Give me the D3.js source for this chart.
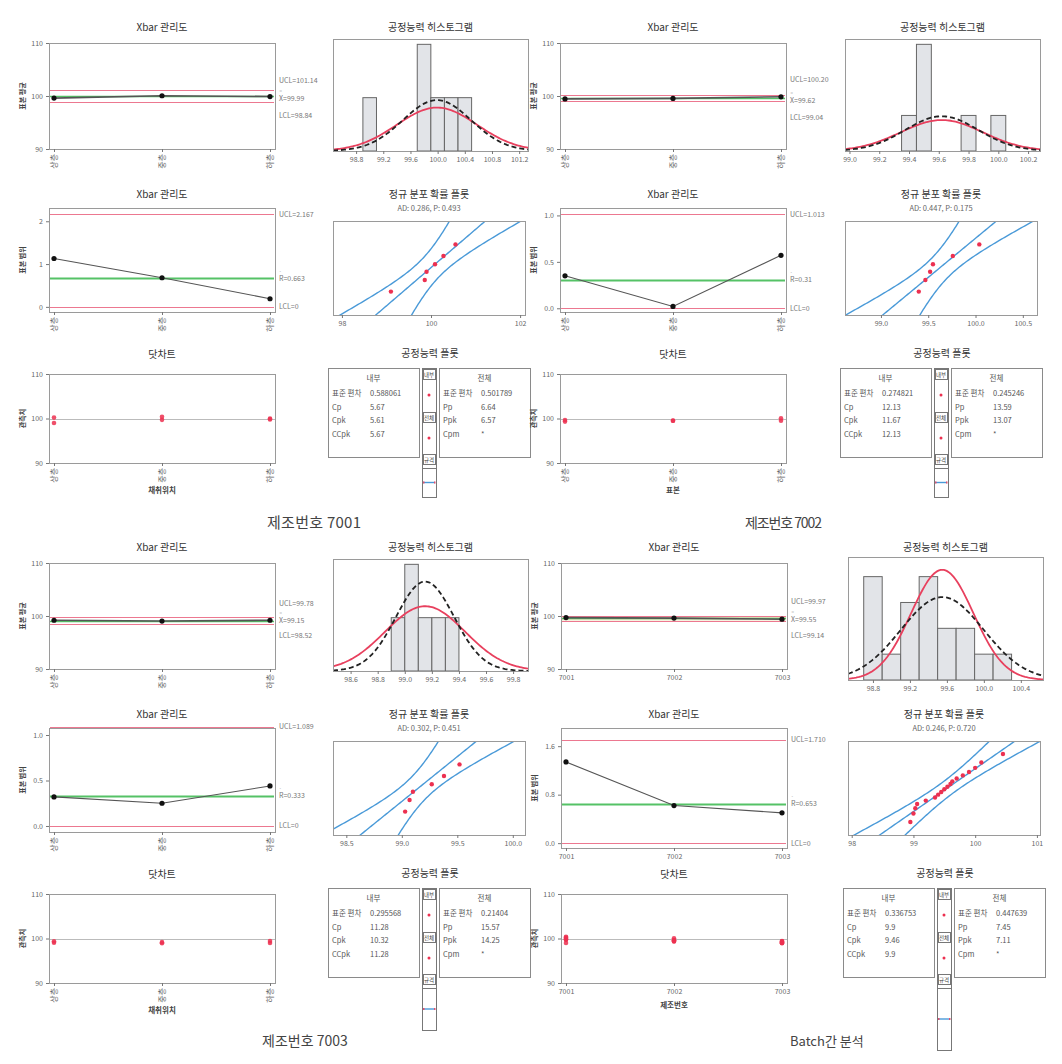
<!DOCTYPE html>
<html><head><meta charset="utf-8">
<script src="https://cdn.jsdelivr.net/npm/d3@7"></script>
<style>
body{margin:0;background:#fff}
text{font-family:'Noto Sans CJK KR','Noto Sans',sans-serif;fill:#555}
</style>
</head><body>
<svg id="c" width="1062" height="1064"></svg>
<script>
// ===================== DATA =====================
const positions = ["상층", "중층", "하층"];
const batches = ["7001", "7002", "7003"];

// Xbar charts: subgroup means and [UCL, center, LCL]
const xbar7001 = [99.6, 100.05, 99.9];
const xbarLim7001 = ["101.14", "99.99", "98.84"];
const xbar7002 = [99.45, 99.55, 99.85];
const xbarLim7002 = ["100.20", "99.62", "99.04"];
const xbar7003 = [99.2, 99.05, 99.2];
const xbarLim7003 = ["99.78", "99.15", "98.52"];
const xbarBatch = [99.7, 99.6, 99.4];
const xbarLimBatch = ["99.97", "99.55", "99.14"];

// R charts (titled "Xbar 관리도" in the source)
const range7001 = [1.13, 0.68, 0.19];
const rangeLim7001 = ["2.167", "0.663", "0"];
const range7002 = [0.35, 0.02, 0.57];
const rangeLim7002 = ["1.013", "0.31", "0"];
const range7003 = [0.32, 0.25, 0.44];
const rangeLim7003 = ["1.089", "0.333", "0"];
const rangeBatch = [1.34, 0.62, 0.5];
const rangeLimBatch = ["1.710", "0.653", "0"];

// Capability histograms: bin left edges, counts, bin width, fitted-curve scale
const histEdges7001 = [98.9, 99.7, 99.9, 100.1, 100.3];
const histCounts7001 = [1, 2, 1, 1, 1];
const histWidth7001 = 0.2;
const histEdges7002 = [99.35, 99.45, 99.75, 99.95];
const histCounts7002 = [1, 3, 1, 1];
const histWidth7002 = 0.1;
const histEdges7003 = [98.9, 99.0, 99.1, 99.2, 99.3];
const histCounts7003 = [1, 2, 1, 1, 1];
const histWidth7003 = 0.1;
const histEdgesBatch = [98.7, 98.9, 99.1, 99.3, 99.5, 99.7, 99.9, 100.1];
const histCountsBatch = [4, 1, 3, 4, 2, 2, 1, 1];
const histWidthBatch = 0.2;
const histCurveScale = [1, 1, 1.5, 1];

// mean, within SD, overall SD, n
const stats7001 = [99.99, 0.588061, 0.501789, 6];
const stats7002 = [99.62, 0.274821, 0.245246, 6];
const stats7003 = [99.15, 0.295568, 0.21404, 6];
const statsBatch = [99.55, 0.336753, 0.447639, 18];

// Normal probability plot points
const prob7001 = [99.1, 99.86, 99.9, 100.09, 100.28, 100.55];
const prob7002 = [99.40, 99.47, 99.52, 99.55, 99.76, 100.04];
const prob7003 = [99.03, 99.07, 99.10, 99.27, 99.38, 99.52];
const probBatch = [98.95, 99.0, 99.03, 99.06, 99.2, 99.35, 99.4, 99.45, 99.5, 99.55, 99.6, 99.63, 99.7, 99.8, 99.9, 100.0, 100.1, 100.45];
const adText = ["AD: 0.286, P: 0.493", "AD: 0.447, P: 0.175", "AD: 0.302, P: 0.451", "AD: 0.246, P: 0.720"];

// Dot charts: observations by position
const dots7001 = [[99.0, 100.2], [99.7, 100.4], [99.8, 100.0]];
const dots7002 = [[99.3, 99.65], [99.5, 99.52], [99.5, 100.05]];
const dots7003 = [[99.04, 99.36], [98.93, 99.18], [98.98, 99.42]];
const dotsBatch = [[99.0, 100.2, 99.7, 100.4, 99.8, 100.0], [99.3, 99.65, 99.5, 99.52, 99.5, 100.05], [99.04, 99.36, 98.93, 99.18, 98.98, 99.42]];

// Capability statistics tables
const capRowsWithin = ["표준 편차", "Cp", "Cpk", "CCpk"];
const capRowsOverall = ["표준 편차", "Pp", "Ppk", "Cpm"];
const capWithin7001 = ["0.588061", "5.67", "5.61", "5.67"];
const capOverall7001 = ["0.501789", "6.64", "6.57", "*"];
const capWithin7002 = ["0.274821", "12.13", "11.67", "12.13"];
const capOverall7002 = ["0.245246", "13.59", "13.07", "*"];
const capWithin7003 = ["0.295568", "11.28", "10.32", "11.28"];
const capOverall7003 = ["0.21404", "15.57", "14.25", "*"];
const capWithinBatch = ["0.336753", "9.9", "9.46", "9.9"];
const capOverallBatch = ["0.447639", "7.45", "7.11", "*"];

const panelLabels = ["제조번호 7001", "제조번호 7002", "제조번호 7003", "Batch간 분석"];

// ===================== HELPERS =====================
const svg = d3.select("#c");
const RED = "#ec7890", GREEN = "#55c266", BLUE = "#4a9ad8", DOT = "#ec3050";

function qnorm(p) {
  const a = [-3.969683028665376e+01, 2.209460984245205e+02, -2.759285104469687e+02, 1.383577518672690e+02, -3.066479806614716e+01, 2.506628277459239e+00];
  const b = [-5.447609879822406e+01, 1.615858368580409e+02, -1.556989798598866e+02, 6.680131188771972e+01, -1.328068155288572e+01];
  const c = [-7.784894002430293e-03, -3.223964580411365e-01, -2.400758277161838e+00, -2.549732539343734e+00, 4.374664141464968e+00, 2.938163982698783e+00];
  const d = [7.784695709041462e-03, 3.224671290700398e-01, 2.445134137142996e+00, 3.754408661907416e+00];
  const pl = 0.02425; let q, r;
  if (p < pl) { q = Math.sqrt(-2 * Math.log(p)); return (((((c[0]*q+c[1])*q+c[2])*q+c[3])*q+c[4])*q+c[5]) / ((((d[0]*q+d[1])*q+d[2])*q+d[3])*q+1); }
  if (p <= 1 - pl) { q = p - 0.5; r = q*q; return (((((a[0]*r+a[1])*r+a[2])*r+a[3])*r+a[4])*r+a[5])*q / (((((b[0]*r+b[1])*r+b[2])*r+b[3])*r+b[4])*r+1); }
  q = Math.sqrt(-2 * Math.log(1 - p)); return -(((((c[0]*q+c[1])*q+c[2])*q+c[3])*q+c[4])*q+c[5]) / ((((d[0]*q+d[1])*q+d[2])*q+d[3])*q+1);
}
const dnorm = (x, m, s) => Math.exp(-0.5 * ((x - m) / s) ** 2) / (s * Math.sqrt(2 * Math.PI));

function text(g, x, y, s, size, o = {}) {
  const t = g.append("text").attr("x", x).attr("y", y).attr("font-size", size)
    .attr("text-anchor", o.anchor || "middle").text(s);
  if (o.fill) t.style("fill", o.fill);
  if (o.rotate) t.attr("transform", `rotate(${o.rotate},${x},${y})`);
  if (o.weight) t.attr("font-weight", o.weight);
  return t;
}
function frame(g, f) {
  g.append("rect").attr("x", f.x0 + 0.5).attr("y", f.y0 + 0.5).attr("width", f.x1 - f.x0).attr("height", f.y1 - f.y0)
    .attr("fill", "none").attr("stroke", "#9a9a9a").attr("stroke-width", 1);
}
function styleAxis(a) {
  a.select(".domain").remove();
  a.selectAll("line").attr("stroke", "#777");
  a.selectAll("text").attr("font-size", 7).style("fill", "#666").attr("font-family", "'Noto Sans CJK KR','Noto Sans',sans-serif");
}
let clipId = 0;
function clip(g, f) {
  const id = "cl" + (clipId++);
  svg.append("clipPath").attr("id", id).append("rect").attr("x", f.x0).attr("y", f.y0).attr("width", f.x1 - f.x0).attr("height", f.y1 - f.y0);
  return g.append("g").attr("clip-path", `url(#${id})`);
}
function xTicks(xa, rotated) {
  if (rotated) xa.selectAll("text").attr("transform", "rotate(-90)").attr("text-anchor", "end").attr("x", -5).attr("y", 0).attr("dy", "0.35em").attr("font-size", 8);
}

function controlChart(g, c) {
  const x = d3.scalePoint().domain(c.cats).range([c.x0 + 5, c.x1 - 5]);
  const y = d3.scaleLinear().domain(c.yDomain).range([c.y1, c.y0]);
  const lim = c.lim.map(Number);
  if (c.band) g.append("rect").attr("x", c.x0 + 1).attr("width", c.x1 - c.x0 - 2).attr("y", y(lim[0])).attr("height", y(lim[2]) - y(lim[0])).attr("fill", "#efe8c8");
  [[lim[0], RED, 1.2], [lim[2], RED, 1.2], [lim[1], GREEN, c.clw || 1.4]].forEach(([v, col, w]) => {
    const yy = Math.round(y(v)) + 0.5;
    g.append("line").attr("x1", c.x0 + 1).attr("x2", c.x1 - 1).attr("y1", yy).attr("y2", yy).attr("stroke", col).attr("stroke-width", w);
  });
  g.append("path").datum(c.values).attr("fill", "none").attr("stroke", "#555").attr("stroke-width", c.lw || 1.1)
    .attr("d", d3.line().x((d, i) => x(c.cats[i])).y(d => y(d)));
  g.selectAll(null).data(c.values).enter().append("circle").attr("cx", (d, i) => x(c.cats[i])).attr("cy", d => y(d)).attr("r", 2.6).attr("fill", "#111");
  frame(g, c);
  styleAxis(g.append("g").attr("transform", `translate(${c.x0},0)`).call(d3.axisLeft(y).tickValues(c.yTicks).tickFormat(c.fmt).tickSize(3)));
  const xa = g.append("g").attr("transform", `translate(0,${c.y1})`).call(d3.axisBottom(x).tickSize(3));
  styleAxis(xa); xTicks(xa, c.rot);
  const names = ["UCL=", c.cname + "=", "LCL="];
  names.forEach((n, i) => {
    const yy = y(lim[i]) + c.ldy[i];
    text(g, c.x1 + 4, yy + 2.5, n + c.lim[i], 7, { anchor: "start", fill: "#777" });
    if (i === 1) text(g, c.x1 + 4.5, yy - 5.5, c.cname === "X" ? "=" : "-", 4.5, { anchor: "start", fill: "#777" });
  });
  text(g, (c.x0 + c.x1) / 2, c.ty, c.title, 10, { fill: "#333" });
  if (c.ylab) text(g, c.x0 - 24, (c.y0 + c.y1) / 2, c.ylab, 7, { rotate: -90, fill: "#444", weight: "bold" });
}

function histChart(g, c) {
  const x = d3.scaleLinear().domain(c.xDomain).range([c.x0, c.x1]);
  const ymax = d3.max(c.counts) * c.top;
  const y = d3.scaleLinear().domain([0, ymax]).range([c.y1, c.y0]);
  const cg = clip(g, c);
  cg.selectAll(null).data(c.edges).enter().append("rect")
    .attr("x", d => x(d)).attr("width", d => x(d + c.bw) - x(d))
    .attr("y", (d, i) => y(c.counts[i])).attr("height", (d, i) => y(0) - y(c.counts[i]))
    .attr("fill", "#e2e4e8").attr("stroke", "#666").attr("stroke-width", 1);
  const [m, sw, so, n] = c.stats;
  const xs = d3.range(c.xDomain[0], c.xDomain[1] + 0.001, (c.xDomain[1] - c.xDomain[0]) / 120);
  const line = s => d3.line().x(d => x(d)).y(d => y(c.cs * n * c.bw * dnorm(d, m, s)))(xs);
  cg.append("path").attr("d", line(sw)).attr("fill", "none").attr("stroke", "#e8405e").attr("stroke-width", 1.8);
  cg.append("path").attr("d", line(so)).attr("fill", "none").attr("stroke", "#222").attr("stroke-width", 1.8).attr("stroke-dasharray", "5,3");
  frame(g, c);
  styleAxis(g.append("g").attr("transform", `translate(0,${c.y1})`).call(d3.axisBottom(x).tickValues(c.ticks).tickFormat(d3.format(".1f")).tickSize(3)));
  text(g, (c.x0 + c.x1) / 2, c.ty, "공정능력 히스토그램", 10, { fill: "#333" });
}

function probChart(g, c) {
  const x = d3.scaleLinear().domain(c.xDomain).range([c.x0, c.x1]);
  const y = d3.scaleLinear().domain([-2.45, 2.45]).range([c.y1, c.y0]);
  const [m, sw, so] = c.stats;
  const vals = c.values.slice().sort(d3.ascending), n = vals.length;
  const cg = clip(g, c);
  const zs = d3.range(-2.6, 2.61, 0.05);
  const band = k => d3.line().x(z => x(m + so * z + k * 1.96 * so * Math.sqrt((1 + z * z / 2) / n))).y(z => y(z))(zs);
  [-1, 0, 1].forEach(k => cg.append("path").attr("d", band(k)).attr("fill", "none").attr("stroke", BLUE).attr("stroke-width", 1.4));
  cg.selectAll(null).data(vals).enter().append("circle")
    .attr("cx", d => x(d)).attr("cy", (d, i) => y(qnorm((i + 1 - 0.3) / (n + 0.4)))).attr("r", 2.2).attr("fill", DOT);
  frame(g, c);
  styleAxis(g.append("g").attr("transform", `translate(0,${c.y1})`).call(d3.axisBottom(x).tickValues(c.ticks).tickFormat(c.fmt).tickSize(3)));
  text(g, (c.x0 + c.x1) / 2, c.ty, "정규 분포 확률 플롯", 10, { fill: "#333" });
  text(g, (c.x0 + c.x1) / 2, c.ty + 13, c.ad, 7.5, { fill: "#666" });
}

function dotChart(g, c) {
  const x = d3.scalePoint().domain(c.cats).range([c.x0 + 5, c.x1 - 5]);
  const y = d3.scaleLinear().domain([90, 110]).range([c.y1, c.y0]);
  g.append("line").attr("x1", c.x0).attr("x2", c.x1).attr("y1", Math.round(y(100)) + 0.5).attr("y2", Math.round(y(100)) + 0.5).attr("stroke", "#bbb").attr("stroke-width", 1);
  c.values.forEach((arr, i) => g.selectAll(null).data(arr).enter().append("circle")
    .attr("cx", x(c.cats[i])).attr("cy", d => y(d)).attr("r", 2.3).attr("fill", DOT).attr("opacity", 0.85));
  frame(g, c);
  styleAxis(g.append("g").attr("transform", `translate(${c.x0},0)`).call(d3.axisLeft(y).tickValues([90, 100, 110]).tickSize(3)));
  const xa = g.append("g").attr("transform", `translate(0,${c.y1})`).call(d3.axisBottom(x).tickSize(3));
  styleAxis(xa); xTicks(xa, c.rot);
  text(g, (c.x0 + c.x1) / 2, c.ty, "닷차트", 10, { fill: "#333" });
  text(g, c.x0 - 24, (c.y0 + c.y1) / 2, "관측치", 7, { rotate: -90, fill: "#444", weight: "bold" });
  text(g, (c.x0 + c.x1) / 2, c.y1 + c.xly, c.xlab, 7.5, { fill: "#444", weight: "bold" });
}

function capChart(g, c) {
  text(g, c.cx, c.ty, "공정능력 플롯", 10, { fill: "#333" });
  const box = (x0, x1, head, rows, vals) => {
    g.append("rect").attr("x", x0 + 0.5).attr("y", c.y0 + 0.5).attr("width", x1 - x0).attr("height", c.y1 - c.y0).attr("fill", "none").attr("stroke", "#8a8a8a");
    text(g, (x0 + x1) / 2, c.y0 + 13, head, 7.5, { fill: "#555" });
    rows.forEach((r, i) => {
      text(g, x0 + 4, c.y0 + 28 + i * 13.7, r, 7.5, { anchor: "start", fill: "#555" });
      text(g, x0 + 42, c.y0 + 28 + i * 13.7, vals[i], 7.5, { anchor: "start", fill: "#555" });
    });
  };
  box(c.bx0, c.bx1, "내부", capRowsWithin, c.within);
  box(c.bx2, c.bx3, "전체", capRowsOverall, c.overall);
  // middle strip
  const mx0 = c.bx1 + 3, mx1 = c.bx2 - 3, mw = mx1 - mx0, mcx = (mx0 + mx1) / 2;
  g.append("rect").attr("x", mx0 + 0.5).attr("y", c.y0 + 0.5).attr("width", mw).attr("height", c.y2 - c.y0).attr("fill", "none").attr("stroke", "#777");
  [["내부", 0], ["전체", 43], ["규격", 85]].forEach(([s, dy]) => {
    g.append("rect").attr("x", mx0 + 1.5).attr("y", c.y0 + dy + 1.5).attr("width", mw - 2).attr("height", 10).attr("fill", "none").attr("stroke", "#777");
    text(g, mcx, c.y0 + dy + 9, s, 5.5, { fill: "#444" });
  });
  [27, 70].forEach(dy => g.append("circle").attr("cx", mcx).attr("cy", c.y0 + dy).attr("r", 1.5).attr("fill", DOT));
  g.append("line").attr("x1", mx0).attr("x2", mx1).attr("y1", c.y0 + 100.5).attr("y2", c.y0 + 100.5).attr("stroke", "#777");
  const ly = c.y0 + 100 + (c.y2 - c.y0 - 100) / 2;
  g.append("line").attr("x1", mx0 + 1).attr("x2", mx1 - 1).attr("y1", ly).attr("y2", ly).attr("stroke", BLUE).attr("stroke-width", 1.4);
  [mx0 + 1, mx1 - 2].forEach(xx => g.append("rect").attr("x", xx).attr("y", ly - 1).attr("width", 1.5).attr("height", 2).attr("fill", "#e05070"));
}

// ===================== LAYOUT =====================
const quads = [
  { lx: 0, rx: 0, oy: 0, xl: [-9, 2, 13], histY: [39, 151], capY2: 497 },
  { lx: 511, rx: 512, oy: 0, xl: [-15, 2, 16], histY: [39, 151], capY2: 497 },
  { lx: 0, rx: 0, oy: 520, xl: [-14, 0, 12], histY: [39, 151], capY2: 510 },
  { lx: 512, rx: 515, oy: 520, xl: [-15, 1, 15], histY: [37, 160], capY2: 530 }
];
const xbarSets = [xbar7001, xbar7002, xbar7003, xbarBatch];
const xbarLims = [xbarLim7001, xbarLim7002, xbarLim7003, xbarLimBatch];
const rangeSets = [range7001, range7002, range7003, rangeBatch];
const rangeLims = [rangeLim7001, rangeLim7002, rangeLim7003, rangeLimBatch];
const rangeDomains = [[-0.12, 2.31], [-0.04, 1.08], [-0.066, 1.077], [-0.08, 1.9]];
const rangeTicks = [[0, 1, 2], [0, 0.5, 1.0], [0, 0.5, 1.0], [0, 0.8, 1.6]];
const rangeFmt = [d3.format("d"), d3.format(".1f"), d3.format(".1f"), d3.format(".1f")];
const histSets = [
  [histEdges7001, histCounts7001, histWidth7001, [98.46, 101.33], [98.8, 99.2, 99.6, 100.0, 100.4, 100.8, 101.2], 1.05],
  [histEdges7002, histCounts7002, histWidth7002, [98.97, 100.28], [99.0, 99.2, 99.4, 99.6, 99.8, 100.0, 100.2], 1.05],
  [histEdges7003, histCounts7003, histWidth7003, [98.47, 99.91], [98.6, 98.8, 99.0, 99.2, 99.4, 99.6, 99.8], 1.05],
  [histEdgesBatch, histCountsBatch, histWidthBatch, [98.53, 100.64], [98.8, 99.2, 99.6, 100.0, 100.4], 1.19]
];
const statSets = [stats7001, stats7002, stats7003, statsBatch];
const probSets = [
  [prob7001, [97.8, 102.11], [98, 100, 102], d3.format("d")],
  [prob7002, [98.62, 100.65], [99.0, 99.5, 100.0, 100.5], d3.format(".1f")],
  [prob7003, [98.38, 100.11], [98.5, 99.0, 99.5, 100.0], d3.format(".1f")],
  [probBatch, [97.94, 101.05], [98, 99, 100, 101], d3.format("d")]
];
const dotSets = [dots7001, dots7002, dots7003, dotsBatch];
const dotXLabels = ["채취위치", "표본", "채취위치", "제조번호"];
const capSets = [[capWithin7001, capOverall7001], [capWithin7002, capOverall7002], [capWithin7003, capOverall7003], [capWithinBatch, capOverallBatch]];

quads.forEach((q, k) => {
  const g = svg.append("g");
  const cats = k === 3 ? batches : positions;
  const rot = k !== 3;
  const L = q.lx, R = q.rx, Y = q.oy;
  controlChart(g, { x0: 49 + L, x1: 275 + L, y0: 43 + Y, y1: 149 + Y, yDomain: [90, 110], yTicks: [90, 100, 110], fmt: d3.format("d"), rot,
    cats, values: xbarSets[k], lim: xbarLims[k], cname: "X", ldy: q.xl, title: "Xbar 관리도", ty: 31 + Y, ylab: "표본 평균", band: k === 3, lw: 1.6 });
  histChart(g, { x0: 333 + R, x1: 528 + R, y0: q.histY[0] + Y, y1: q.histY[1] + Y, edges: histSets[k][0], counts: histSets[k][1], bw: histSets[k][2],
    xDomain: histSets[k][3], ticks: histSets[k][4], top: histSets[k][5], cs: histCurveScale[k], stats: statSets[k], ty: 31 + Y });
  controlChart(g, { x0: 49 + L, x1: 275 + L, y0: 208 + Y, y1: (k === 3 ? 328 : 312) + Y, yDomain: rangeDomains[k], yTicks: rangeTicks[k], fmt: rangeFmt[k], rot,
    cats, values: rangeSets[k], lim: rangeLims[k], cname: "R", ldy: [0, 0, 0], title: "Xbar 관리도", ty: 198 + Y, ylab: "표본 범위", clw: 2 });
  probChart(g, { x0: 333 + R, x1: 525 + R, y0: 221 + Y, y1: 315 + Y, values: probSets[k][0], xDomain: probSets[k][1], ticks: probSets[k][2], fmt: probSets[k][3],
    stats: statSets[k], ty: 198 + Y, ad: adText[k] });
  dotChart(g, { x0: 49 + L, x1: 275 + L, y0: 374 + Y, y1: 463 + Y, cats, rot, values: dotSets[k], ty: 358 + Y, xlab: dotXLabels[k], xly: k === 3 ? 25 : 30 });
  capChart(g, { cx: 430 + R, ty: 357 + Y, bx0: 328 + R, bx1: 419 + R, bx2: 439 + R, bx3: 530 + R, y0: 368 + Y, y1: 457 + Y, y2: q.capY2 + Y,
    within: capSets[k][0], overall: capSets[k][1] });
});

// panel captions
text(svg, 267, 528, panelLabels[0], 15, { anchor: "start", fill: "#444" }).attr("textLength", 94);
text(svg, 745, 528, panelLabels[1], 14, { anchor: "start", fill: "#444" }).attr("textLength", 77);
text(svg, 262, 1046, panelLabels[2], 14, { anchor: "start", fill: "#444" });
text(svg, 790, 1046, panelLabels[3], 13, { anchor: "start", fill: "#444" });
</script>
</body></html>
